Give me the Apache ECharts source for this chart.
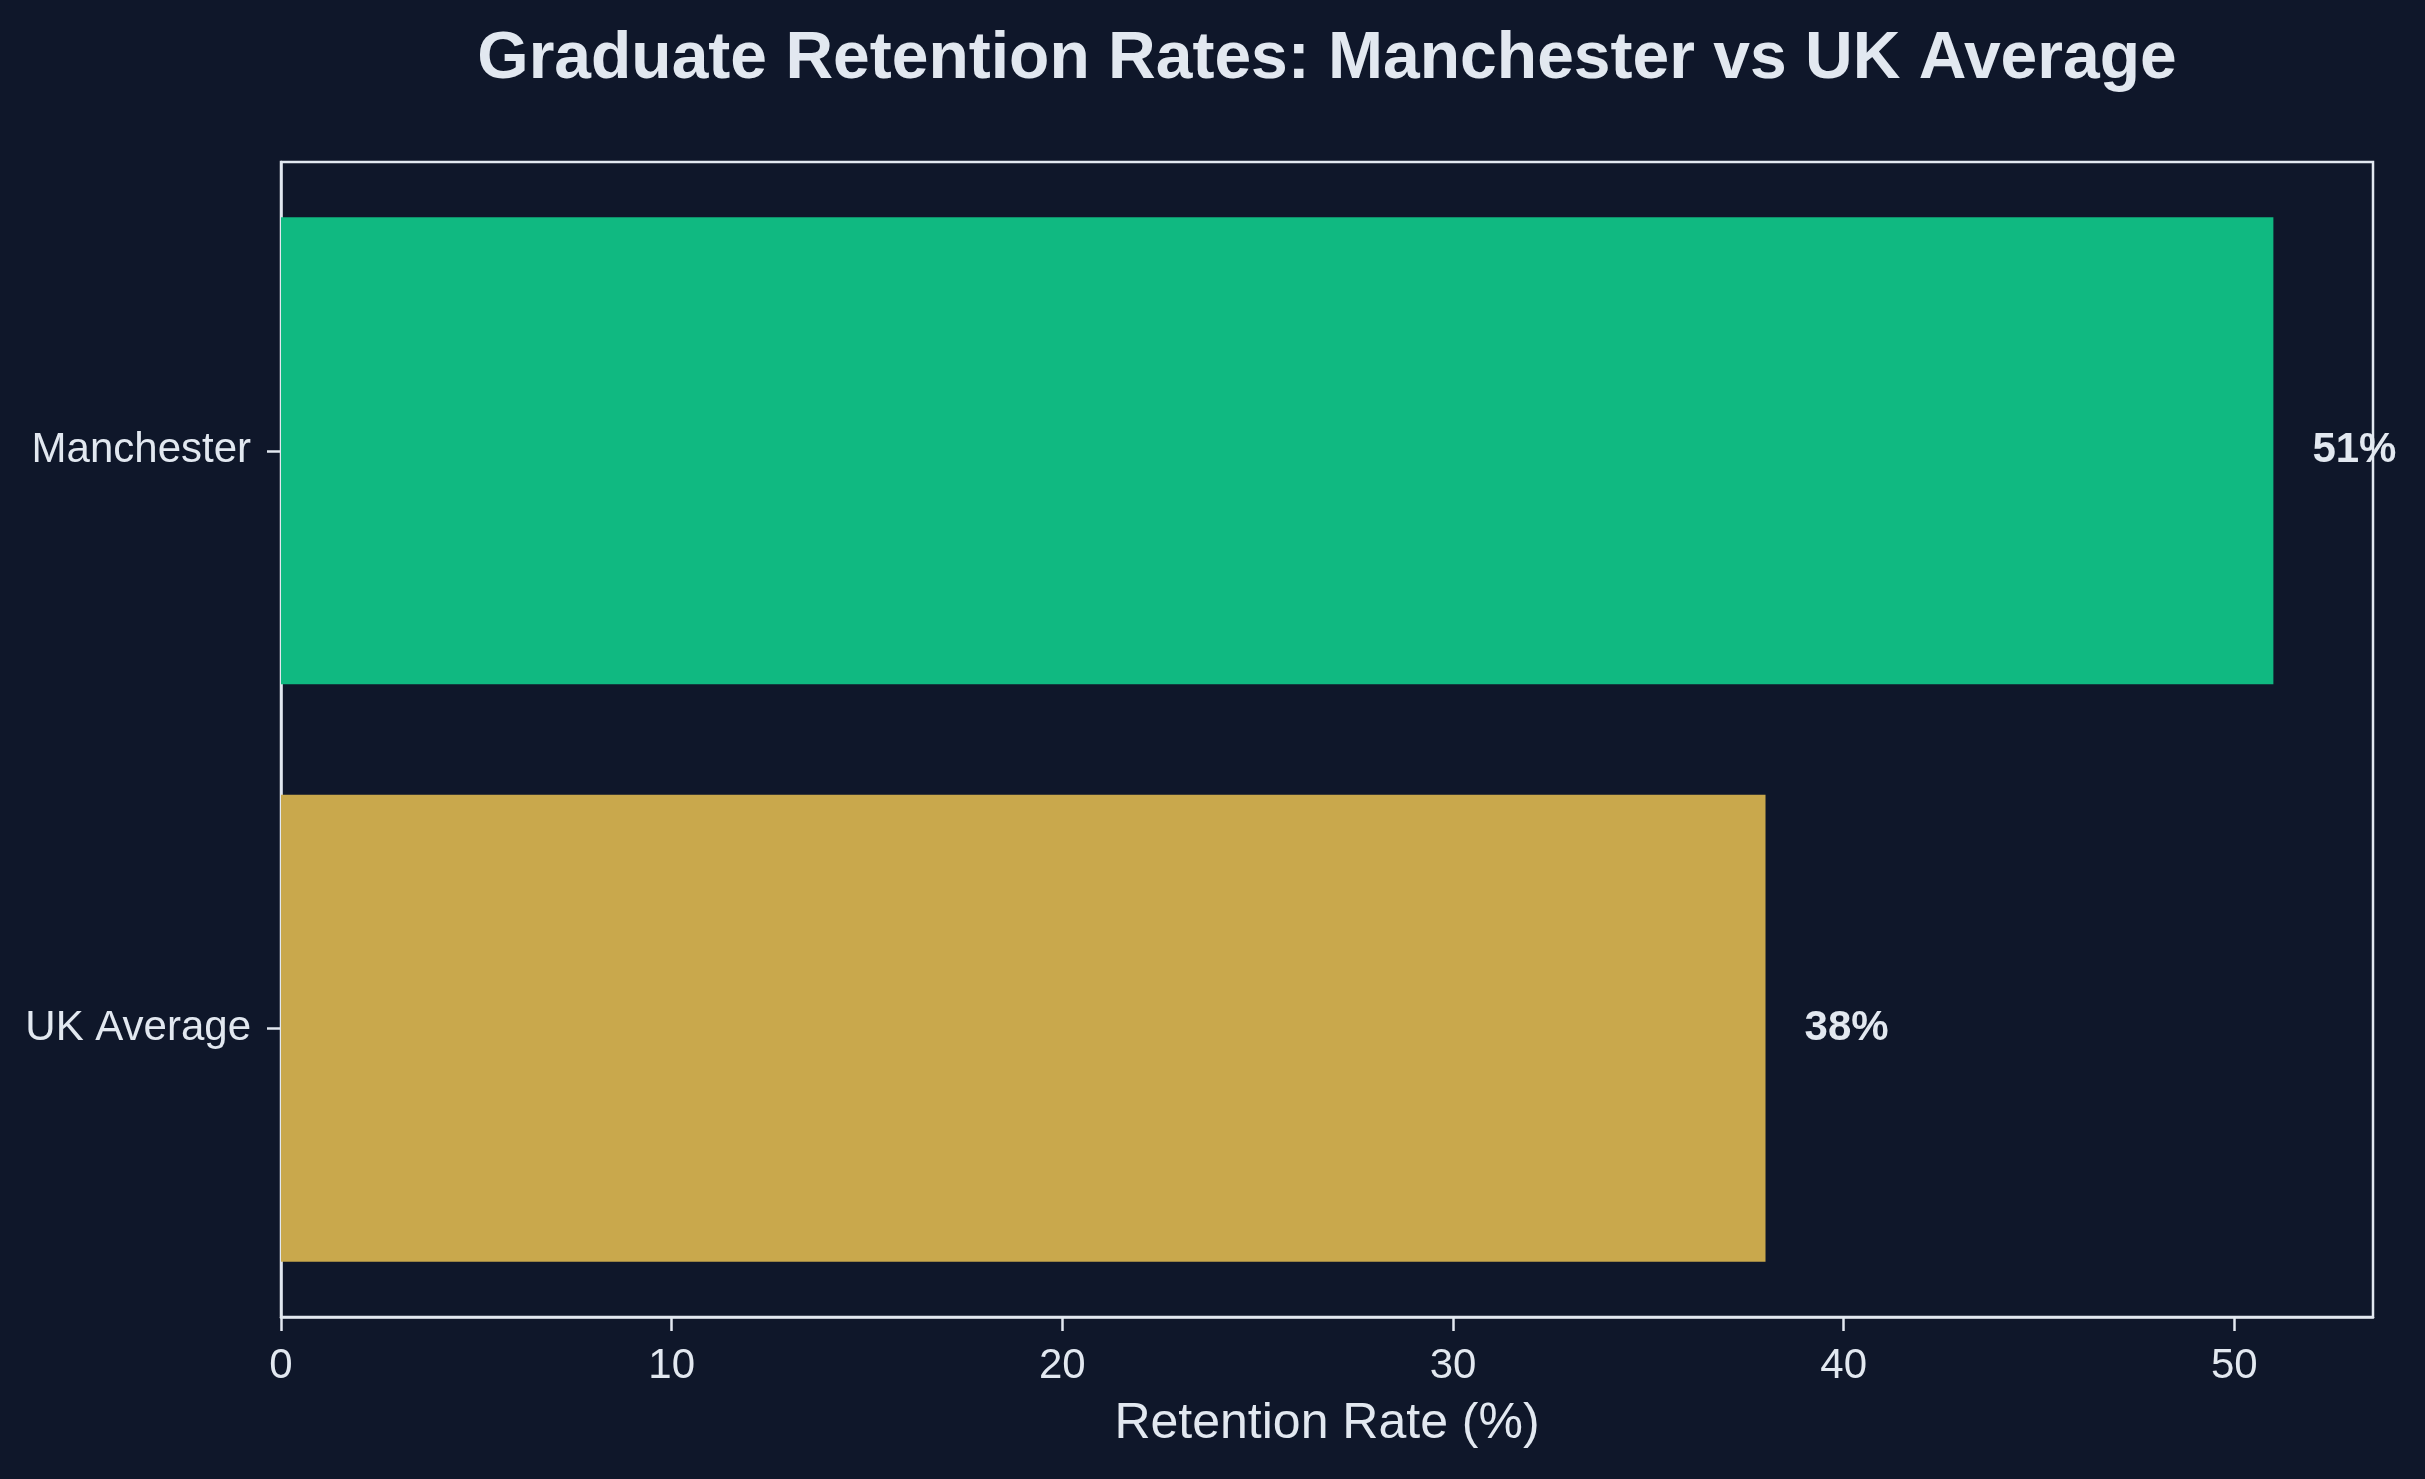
<!DOCTYPE html>
<html>
<head>
<meta charset="utf-8">
<script src="https://cdn.jsdelivr.net/npm/echarts@6/dist/echarts.min.js"></script>
<style>
html,body{margin:0;padding:0;background:#0f172a;}
#chart{width:2425px;height:1479px;}
</style>
</head>
<body>
<div id="chart"></div>
<script>
const categories = ["Manchester", "UK Average"];
const retention = [51, 38];
const barColors = ["#10b981", "#c9a84c"];
const xTicks = [0, 10, 20, 30, 40, 50];

const txt = "#e2e8f0";
const font = "Liberation Sans, Arial, Helvetica, sans-serif";
const chart = echarts.init(document.getElementById('chart'));
chart.setOption({
  backgroundColor: "#0f172a",
  animation: false,
  graphic: [{
    type: 'text',
    x: 1327, y: 60,
    style: {
      text: "Graduate Retention Rates: Manchester vs UK Average",
      fill: txt, font: "bold 66px " + font,
      textAlign: 'center', textVerticalAlign: 'middle'
    }
  }],
  grid: {
    left: 281, right: 52, top: 162, bottom: 162,
    show: true, borderColor: txt, borderWidth: 2.5, backgroundColor: 'transparent'
  },
  xAxis: {
    type: 'value', min: 0, max: 53.55, interval: 10,
    name: "Retention Rate (%)", nameLocation: 'middle', nameGap: 82,
    nameTextStyle: { color: txt, fontSize: 50, fontFamily: font },
    axisLine: { show: true, lineStyle: { color: txt, width: 2.5 } },
    axisTick: { show: true, length: 14, lineStyle: { color: txt, width: 2.5 } },
    axisLabel: {
      color: txt, fontSize: 42, fontFamily: font, margin: 28,
      showMaxLabel: false,
      formatter: v => xTicks.indexOf(v) >= 0 ? String(v) : ''
    },
    splitLine: { show: false }
  },
  yAxis: {
    type: 'category', data: categories, inverse: true,
    axisLine: { show: true, lineStyle: { color: txt, width: 2.5 } },
    axisTick: { show: true, alignWithLabel: true, length: 14, lineStyle: { color: txt, width: 2.5 } },
    axisLabel: { color: txt, fontSize: 42, fontFamily: font, margin: 30 },
    splitLine: { show: false }
  },
  series: [{
    type: 'bar',
    barWidth: 467,
    data: retention.map((v, i) => ({ value: v, itemStyle: { color: barColors[i] } })),
    label: {
      show: true, position: 'right', distance: 39,
      formatter: p => p.value + '%',
      color: txt, fontSize: 42, fontWeight: 'bold', fontFamily: font
    }
  }]
});
</script>
</body>
</html>
